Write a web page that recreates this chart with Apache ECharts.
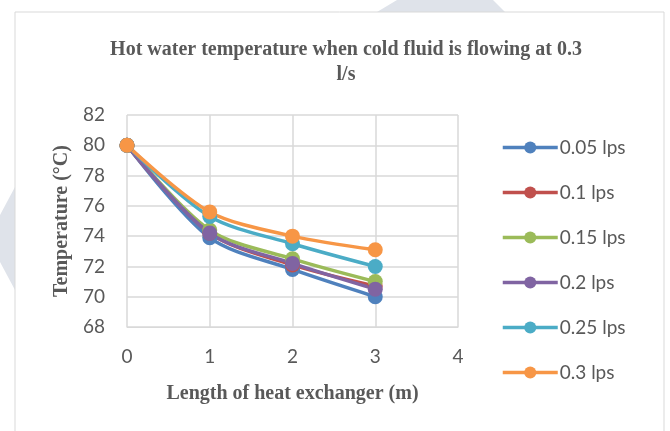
<!DOCTYPE html>
<html lang="en">
<head>
    <meta charset="UTF-8">
    <title>Hot water temperature</title>
    <style>
        html, body { margin: 0; padding: 0; background: #fff; }
        #main { width: 670px; height: 431px; }
    </style>
    <script src="https://cdn.jsdelivr.net/npm/echarts@6/dist/echarts.min.js"></script>
</head>
<body>
<div id="main"></div>
<script type="text/javascript">
    // length of heat exchanger (m)
    var lengths = [0, 1, 2, 3];
    var seriesNames = ['0.05 lps', '0.1 lps', '0.15 lps', '0.2 lps', '0.25 lps', '0.3 lps'];
    var lps005 = [80, 73.9, 71.8, 70.0];
    var lps01 = [80, 74.2, 72.1, 70.7];
    var lps015 = [80, 74.4, 72.5, 71.0];
    var lps02 = [80, 74.2, 72.2, 70.5];
    var lps025 = [80, 75.3, 73.5, 72.0];
    var lps03 = [80, 75.6, 74.0, 73.1];
    var colors = ['#4F81BD', '#C0504D', '#9BBB59', '#8064A2', '#4BACC6', '#F79646'];

    var allValues = [lps005, lps01, lps015, lps02, lps025, lps03];
    var series = [];
    for (var i = 0; i < allValues.length; i++) {
        series.push({
            name: seriesNames[i],
            type: 'line',
            smooth: 0.3,
            symbol: 'circle',
            symbolSize: 15,
            lineStyle: { width: 3.5, color: colors[i] },
            itemStyle: { color: colors[i] },
            data: lengths.map(function (x, j) { return [x, allValues[i][j]]; })
        });
    }

    var serif = { fontFamily: 'Liberation Serif', fontWeight: 'bold', fontSize: 20, color: '#595959' };
    var myChart = echarts.init(document.getElementById('main'));
    var option = {
        animation: false,
        color: colors,
        graphic: [
            // faint page watermark behind the chart
            { type: 'polygon', shape: { points: [[397, 0], [493, 0], [505, 12], [377, 12]] }, style: { fill: '#dfe3ea' }, z: -2 },
            { type: 'polygon', shape: { points: [[0, 215], [15, 187], [15, 290], [0, 262]] }, style: { fill: '#dfe3ea' }, z: -2 },
            { type: 'rect', shape: { x: 15, y: 12, width: 649, height: 430 }, style: { fill: 'none', stroke: '#d9d9d9', lineWidth: 1 }, z: -1 }
        ],
        title: {
            text: 'Hot water temperature when cold fluid is flowing at 0.3\nl/s',
            left: 341,
            textAlign: 'center',
            top: 32,
            textStyle: Object.assign({ lineHeight: 25 }, serif)
        },
        legend: {
            orient: 'vertical',
            left: 496,
            top: 133,
            itemWidth: 55,
            itemHeight: 15,
            itemGap: 26,
            lineStyle: { width: 3.5 },
            textStyle: { fontFamily: 'Lato', fontSize: 19, color: '#595959', padding: [0, 0, 0, -3] },
            data: seriesNames
        },
        grid: { left: 127, right: 212, top: 115, bottom: 104 },
        xAxis: {
            type: 'value',
            min: 0,
            max: 4,
            interval: 1,
            name: 'Length of heat exchanger (m)',
            nameLocation: 'middle',
            nameGap: 57,
            nameTextStyle: serif,
            axisLine: { lineStyle: { color: '#d9d9d9' } },
            axisTick: { show: false },
            axisLabel: { fontFamily: 'Lato', fontSize: 19, color: '#595959', margin: 20 },
            splitLine: { lineStyle: { color: '#d9d9d9', width: 1.5 } }
        },
        yAxis: {
            type: 'value',
            min: 68,
            max: 82,
            interval: 2,
            name: 'Temperature (°C)',
            nameLocation: 'middle',
            nameGap: 55,
            nameTextStyle: serif,
            axisLine: { show: false },
            axisTick: { show: false },
            axisLabel: { fontFamily: 'Lato', fontSize: 19, color: '#595959', margin: 22 },
            splitLine: { lineStyle: { color: '#d9d9d9', width: 1.5 } }
        },
        series: series
    };
    myChart.setOption(option);
</script>
</body>
</html>
